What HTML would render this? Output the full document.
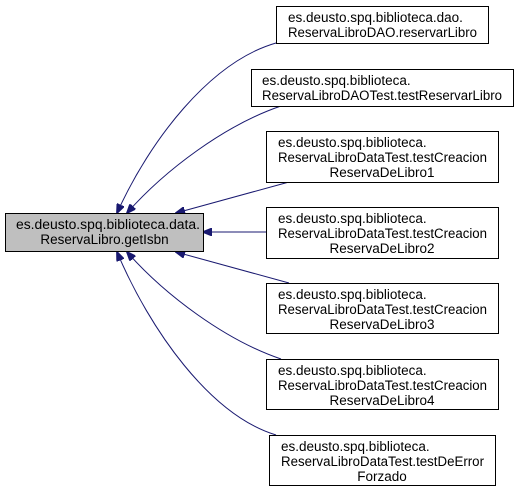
<!DOCTYPE html>
<html><head><meta charset="utf-8"><style>
body{margin:0;background:#fff;}
svg text{font-family:"Liberation Sans",Helvetica,sans-serif;font-size:13.5px;fill:#000;}
</style></head><body>
<svg width="519" height="492" viewBox="0 0 519 492" xmlns="http://www.w3.org/2000/svg">
<defs><marker id="a" markerWidth="10" markerHeight="8" refX="9" refY="4" orient="auto" markerUnits="userSpaceOnUse"><path d="M0,0 L10,4 L0,8 Z" fill="#191970" stroke="#191970"/></marker></defs>
<g fill="none" stroke="#191970" stroke-width="1">
<path d="M276,43 C210,62 150,140 117,213" marker-end="url(#a)"/>
<path d="M281,106 C225,125 165,170 127,213" marker-end="url(#a)"/>
<path d="M289,182 L176,213" marker-end="url(#a)"/>
<path d="M266,232 L203,232" marker-end="url(#a)"/>
<path d="M289,283 L176,252" marker-end="url(#a)"/>
<path d="M281,359 C225,340 165,295 127,252" marker-end="url(#a)"/>
<path d="M276,435 C210,415 150,330 117,252" marker-end="url(#a)"/>
</g>
<rect x="5.5" y="213.5" width="198" height="38" fill="#bfbfbf" stroke="#000"/>
<text x="16" y="229" textLength="184" lengthAdjust="spacingAndGlyphs">es.deusto.spq.biblioteca.data.</text>
<text x="104.5" y="244" text-anchor="middle">ReservaLibro.getIsbn</text>
<g fill="#fff" stroke="#000">
<rect x="276.5" y="6.5" width="212" height="37"/>
<rect x="251.5" y="69.5" width="262" height="37"/>
<rect x="266.5" y="131.5" width="232" height="51"/>
<rect x="266.5" y="207.5" width="232" height="51"/>
<rect x="266.5" y="283.5" width="232" height="50"/>
<rect x="266.5" y="359.5" width="232" height="50"/>
<rect x="269.5" y="435.5" width="226" height="50"/>
</g>
<text x="288" y="22">es.deusto.spq.biblioteca.dao.</text>
<text x="288" y="37" textLength="189" lengthAdjust="spacingAndGlyphs">ReservaLibroDAO.reservarLibro</text>
<text x="262" y="85">es.deusto.spq.biblioteca.</text>
<text x="262" y="100" textLength="240" lengthAdjust="spacingAndGlyphs">ReservaLibroDAOTest.testReservarLibro</text>
<g>
<text x="278" y="147">es.deusto.spq.biblioteca.</text>
<text x="278" y="162" textLength="209" lengthAdjust="spacingAndGlyphs">ReservaLibroDataTest.testCreacion</text>
<text x="382" y="177" text-anchor="middle">ReservaDeLibro1</text>
<text x="278" y="223">es.deusto.spq.biblioteca.</text>
<text x="278" y="238" textLength="209" lengthAdjust="spacingAndGlyphs">ReservaLibroDataTest.testCreacion</text>
<text x="382" y="253" text-anchor="middle">ReservaDeLibro2</text>
<text x="278" y="299">es.deusto.spq.biblioteca.</text>
<text x="278" y="314" textLength="209" lengthAdjust="spacingAndGlyphs">ReservaLibroDataTest.testCreacion</text>
<text x="382" y="329" text-anchor="middle">ReservaDeLibro3</text>
<text x="278" y="375">es.deusto.spq.biblioteca.</text>
<text x="278" y="390" textLength="209" lengthAdjust="spacingAndGlyphs">ReservaLibroDataTest.testCreacion</text>
<text x="382" y="405" text-anchor="middle">ReservaDeLibro4</text>
<text x="281" y="451">es.deusto.spq.biblioteca.</text>
<text x="281" y="466" textLength="203" lengthAdjust="spacingAndGlyphs">ReservaLibroDataTest.testDeError</text>
<text x="382" y="481" text-anchor="middle">Forzado</text>
</g>
</svg>
</body></html>
